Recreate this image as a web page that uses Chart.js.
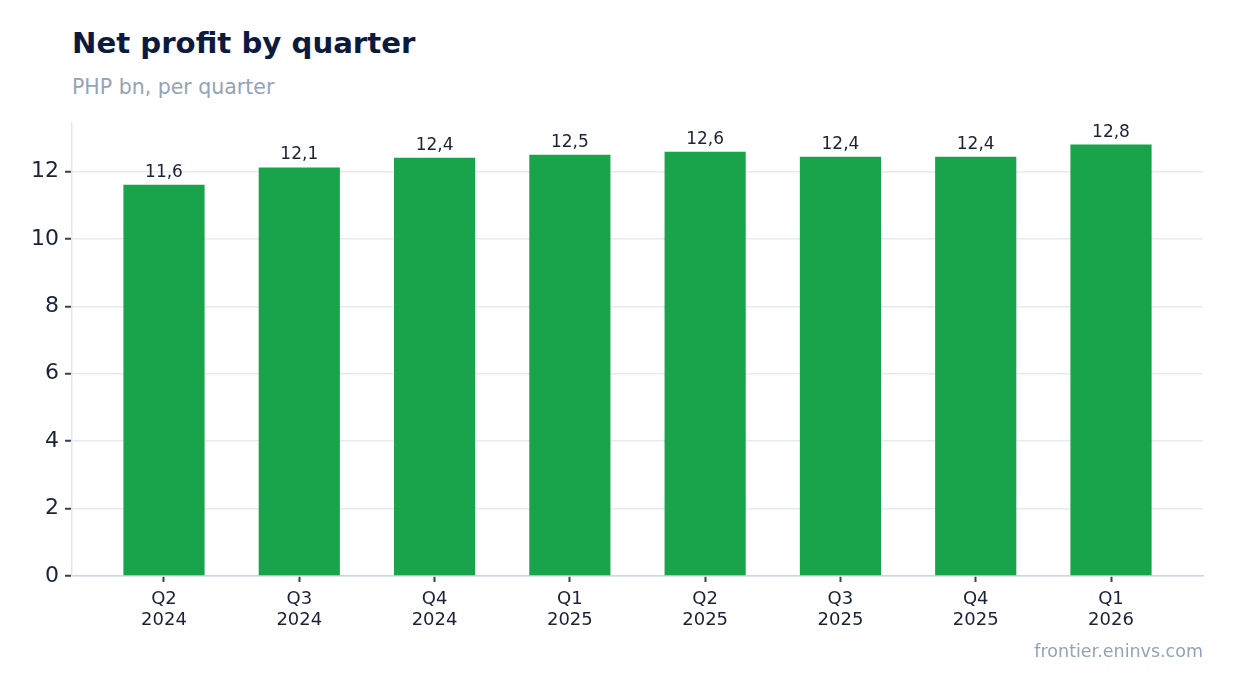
<!DOCTYPE html>
<html lang="en">
<head>
    <meta charset="UTF-8">
    <title>Net profit by quarter</title>
    <script src="https://cdn.jsdelivr.net/npm/chart.js"></script>
    <style>
        * { margin: 0; padding: 0; }
        body {
            width: 1234px;
            height: 693px;
            background: #ffffff;
            font-family: 'DejaVu Sans', sans-serif;
            position: relative;
            overflow: hidden;
        }
        .title {
            position: absolute;
            left: 72px;
            top: 29px;
            font-size: 29.2px;
            line-height: 29px;
            font-weight: bold;
            color: #0c1a40;
        }
        .subtitle {
            position: absolute;
            left: 72px;
            top: 77px;
            font-size: 20.5px;
            line-height: 20px;
            color: #94a3b8;
        }
        .source {
            position: absolute;
            right: 31px;
            top: 643px;
            font-size: 17.5px;
            line-height: 17px;
            color: #94a3b8;
        }
        #chart {
            position: absolute;
            left: 0;
            top: 0;
        }
    </style>
</head>
<body>
    <div class="title">Net profit by quarter</div>
    <div class="subtitle">PHP bn, per quarter</div>
    <canvas id="chart" width="1234" height="693"></canvas>
    <div class="source">frontier.eninvs.com</div>

    <script>
        // data
        const quarters = ['Q2', 'Q3', 'Q4', 'Q1', 'Q2', 'Q3', 'Q4', 'Q1'];
        const years = ['2024', '2024', '2024', '2025', '2025', '2025', '2025', '2026'];
        const netProfit = [11.61, 12.12, 12.41, 12.50, 12.59, 12.44, 12.44, 12.80];
        const yTicks = [0, 2, 4, 6, 8, 10, 12];

        const fmt = v => v.toFixed(1).replace('.', ',');

        // value labels above bars
        const barLabels = {
            id: 'barLabels',
            afterDatasetsDraw(chart) {
                const ctx = chart.ctx;
                const meta = chart.getDatasetMeta(0);
                ctx.save();
                ctx.font = '17px "DejaVu Sans"';
                ctx.fillStyle = '#1a2238';
                ctx.textAlign = 'center';
                ctx.textBaseline = 'alphabetic';
                meta.data.forEach((bar, i) => {
                    ctx.fillText(fmt(netProfit[i]), bar.x, bar.y - 8);
                });
                ctx.restore();
            }
        };

        new Chart(document.getElementById('chart'), {
            type: 'bar',
            data: {
                datasets: [{
                    data: netProfit.map((v, i) => ({ x: i, y: v })),
                    backgroundColor: '#19a34a',
                    borderWidth: 0,
                    barPercentage: 0.6,
                    categoryPercentage: 1
                }]
            },
            options: {
                responsive: false,
                animation: false,
                devicePixelRatio: 1,
                layout: { padding: { top: 123, right: 31, bottom: 0, left: 0 } },
                plugins: {
                    legend: { display: false },
                    tooltip: { enabled: false }
                },
                scales: {
                    x: {
                        type: 'linear',
                        min: -0.68,
                        max: 7.68,
                        offset: false,
                        afterBuildTicks: s => { s.ticks = quarters.map((q, i) => ({ value: i })); },
                        afterFit: s => { s.height = 117; },
                        grid: {
                            offset: false,
                            drawOnChartArea: false,
                            tickLength: 6,
                            tickColor: '#3a4152',
                            tickWidth: 2
                        },
                        border: { color: '#cfd6e2', width: 1.5 },
                        ticks: {
                            padding: 7,
                            color: '#1a2238',
                            font: { family: 'DejaVu Sans', size: 18, lineHeight: 1.15 },
                            callback: v => [quarters[v], years[v]]
                        }
                    },
                    y: {
                        min: 0,
                        max: 13.44,
                        afterBuildTicks: s => { s.ticks = yTicks.map(v => ({ value: v })); },
                        afterFit: s => { s.width = 72; },
                        grid: {
                            color: '#e6eaf1',
                            lineWidth: 1.5,
                            tickLength: 7,
                            tickColor: '#3a4152',
                            tickWidth: 2
                        },
                        border: { color: '#e2e7ef', width: 1.5 },
                        ticks: {
                            padding: 6,
                            color: '#1a2238',
                            font: { family: 'DejaVu Sans', size: 22 }
                        }
                    }
                }
            },
            plugins: [barLabels]
        });
    </script>
</body>
</html>
